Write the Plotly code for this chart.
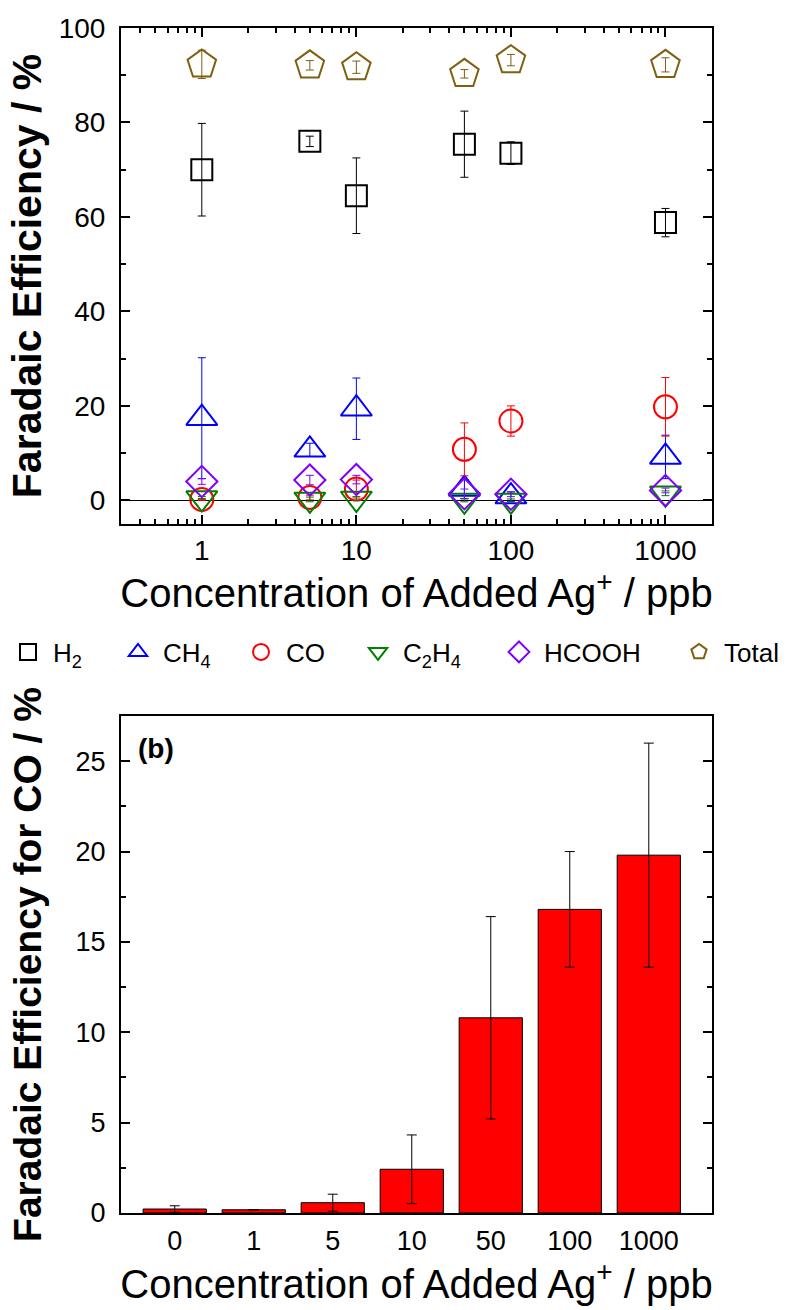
import plotly.graph_objects as go
import math

# ---------------- data (top panel) ----------------
conc = [1, 5, 10, 50, 100, 1000]

h2 = [70.0, 76.0, 64.5, 75.4, 73.5, 58.8]
h2_err = [9.8, 1.1, 8.0, 7.0, 2.4, 3.0]

ch4 = [17.4, 10.7, 19.4, 2.4, 0.8, 9.2]
ch4_err = [12.8, 1.4, 6.5, 2.0, 1.0, 4.6]

co = [0.2, 0.6, 2.4, 10.8, 16.8, 19.8]
co_err = [0.2, 0.5, 1.9, 5.6, 3.2, 6.2]

c2h4 = [0.5, 0.2, 0.4, 0.0, 0.0, 1.5]
c2h4_err = [0.3, 0.5, 0.4, 0.3, 0.3, 0.5]

hcooh = [4.0, 4.3, 4.4, 1.4, 1.3, 2.1]
hcooh_err = [0.6, 1.0, 0.9, 1.0, 0.5, 0.5]

total = [92.3, 92.1, 91.7, 90.3, 93.2, 92.2]
total_err = [3.0, 1.0, 1.3, 0.9, 1.2, 1.5]

# ---------------- data (bottom panel) ----------------
bar_cats = ["0", "1", "5", "10", "50", "100", "1000"]
co_bar = [0.22, 0.18, 0.57, 2.42, 10.8, 16.8, 19.8]
co_bar_err = [0.18, 0.0, 0.47, 1.9, 5.6, 3.2, 6.2]

FONT = "Liberation Sans, Arial, sans-serif"
W, H = 800, 1310

series = [
    ("H<sub>2</sub>", h2, h2_err, "square-open", "#000000", 21),
    ("CH<sub>4</sub>", ch4, ch4_err, "triangle-up-open", "#0000FF", 27),
    ("CO", co, co_err, "circle-open", "#FF0000", 23),
    ("C<sub>2</sub>H<sub>4</sub>", c2h4, c2h4_err, "triangle-down-open", "#008000", 27),
    ("HCOOH", hcooh, hcooh_err, "diamond-open", "#8000FF", 24),
    ("Total", total, total_err, "pentagon-open", "#7F5F10", 30),
]
# legend entry left edges (px) for the single-row legend
legend_left_px = [3, 113, 236, 353, 494, 674]

fig = go.Figure()
legend_layouts = {}
for i, (name, y, e, sym, col, sz) in enumerate(series):
    lid = "legend" if i == 0 else f"legend{i + 1}"
    fig.add_trace(go.Scatter(
        x=conc, y=y, mode="markers", name=name, legend=lid,
        error_y=dict(type="data", array=e, color=col, thickness=1, width=4),
        marker=dict(symbol=sym, size=sz, color=col, line=dict(width=2, color=col)),
        xaxis="x", yaxis="y", cliponaxis=True,
    ))
    legend_layouts[lid] = dict(
        orientation="h", x=legend_left_px[i] / W, xanchor="left",
        y=(H - 652) / H, yanchor="middle",
        font=dict(size=26, family=FONT, color="#000000"), itemwidth=40,
        bgcolor="rgba(0,0,0,0)", borderwidth=0,
    )

fig.add_trace(go.Bar(
    x=bar_cats, y=co_bar, width=0.8, showlegend=False,
    marker=dict(color="#FF0000", line=dict(color="#000000", width=1)),
    error_y=dict(type="data", array=co_bar_err, color="#000000", thickness=1, width=5),
    xaxis="x2", yaxis="y2",
))

axis_common = dict(showline=True, linecolor="#000000", linewidth=2, showgrid=False,
                   tickcolor="#000000", tickwidth=2, ticklen=9, ticks="inside", automargin=False)

x_dom = [121 / W, 712 / W]
top_dom = [(H - 524) / H, (H - 28) / H]
bot_dom = [(H - 1213) / H, (H - 716) / H]

fig.update_layout(
    width=W, height=H,
    margin=dict(l=0, r=0, t=0, b=0, autoexpand=False),
    paper_bgcolor="white", plot_bgcolor="white",
    font=dict(family=FONT, color="#000000"),
    xaxis=dict(
        type="log", range=[math.log10(0.3), math.log10(2000)], domain=x_dom, anchor="y",
        tickmode="linear", tick0=0, dtick=1, exponentformat="none",
        mirror="ticks", tickfont=dict(size=28),
        minor=dict(ticks="inside", ticklen=5, tickwidth=1.5, tickcolor="#000000", dtick="D1", showgrid=False),
        title=dict(text="Concentration of Added Ag<sup>+</sup> / ppb", font=dict(size=40), standoff=7),
        **axis_common,
    ),
    yaxis=dict(
        range=[-5, 100], domain=top_dom, anchor="x",
        tickmode="linear", tick0=0, dtick=20, mirror="ticks", tickfont=dict(size=28),
        ticklabelstandoff=8,
        zeroline=True, zerolinecolor="#000000", zerolinewidth=1,
        minor=dict(ticks="inside", ticklen=5, tickwidth=1.5, tickcolor="#000000", dtick=10, showgrid=False),
        title=dict(text="<b>Faradaic Efficiency / %</b>", font=dict(size=41), standoff=4),
        **axis_common,
    ),
    xaxis2=dict(
        type="category", range=[-0.68, 6.8], domain=x_dom, anchor="y2", automargin=False,
        showline=True, linecolor="#000000", linewidth=2, showgrid=False, mirror=True,
        ticks="", tickfont=dict(size=27), tickangle=0, ticklabelstandoff=3,
        title=dict(text="Concentration of Added Ag<sup>+</sup> / ppb", font=dict(size=40), standoff=0),
    ),
    yaxis2=dict(
        range=[0, 27.5], domain=bot_dom, anchor="x2",
        tickmode="linear", tick0=0, dtick=5, mirror="ticks", tickfont=dict(size=27), zeroline=False,
        ticklabelstandoff=8,
        minor=dict(ticks="inside", ticklen=5, tickwidth=1.5, tickcolor="#000000", dtick=2.5, showgrid=False),
        title=dict(text="<b>Faradaic Efficiency for CO / %</b>", font=dict(size=39), standoff=22),
        **axis_common,
    ),
    annotations=[dict(
        text="<b>(b)</b>", xref="paper", yref="paper", x=136 / W, y=(H - 748) / H,
        xanchor="left", yanchor="middle", showarrow=False, font=dict(size=28),
    )],
    bargap=0.2,
    **legend_layouts,
)

fig.write_html("out.html")
